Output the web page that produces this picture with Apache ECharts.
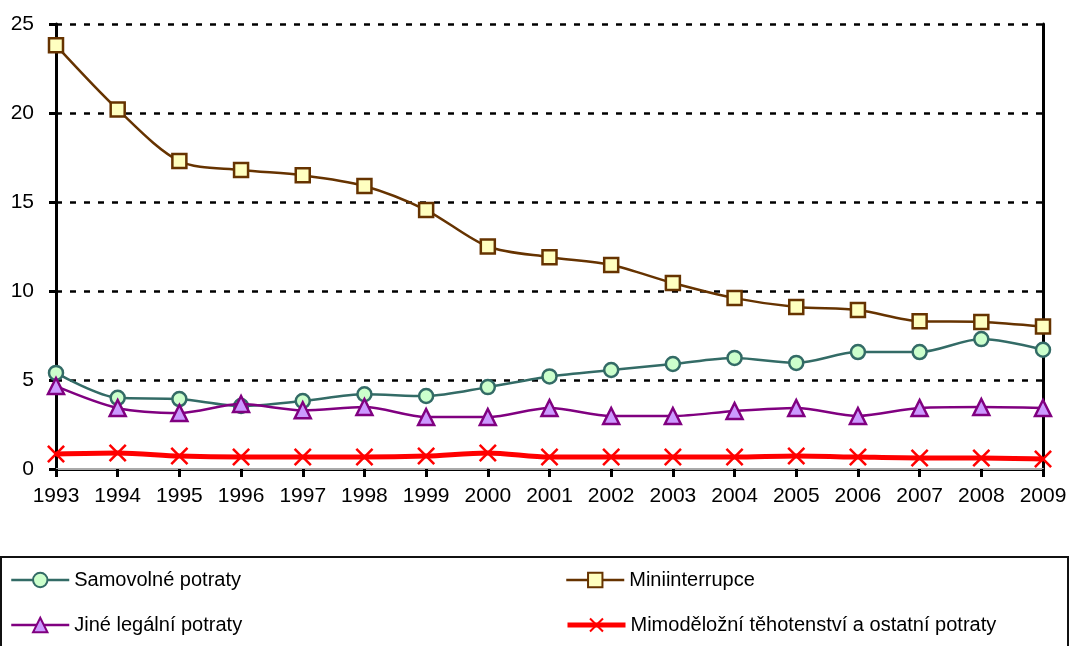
<!DOCTYPE html>
<html>
<head>
<meta charset="utf-8">
<script src="https://cdn.jsdelivr.net/npm/echarts@6/dist/echarts.min.js"></script>
<style>
  html, body { margin: 0; padding: 0; background: #fff; }
  #chart { width: 1069px; height: 646px; }
</style>
</head>
<body>
<div id="chart"></div>
<script>
var years = ['1993', '1994', '1995', '1996', '1997', '1998', '1999', '2000', '2001',
  '2002', '2003', '2004', '2005', '2006', '2007', '2008', '2009']

var samovolne = [5.4, 4.0, 3.93, 3.54, 3.82, 4.2, 4.1, 4.6, 5.2, 5.56, 5.9, 6.24, 5.96, 6.57, 6.57, 7.3, 6.7]
var miniinterrupce = [23.8, 20.2, 17.3, 16.8, 16.5, 15.9, 14.55, 12.5, 11.9, 11.46, 10.45, 9.6, 9.1, 8.93, 8.3, 8.26, 8.0]
var jine = [4.66, 3.43, 3.15, 3.65, 3.3, 3.48, 2.92, 2.92, 3.43, 2.98, 2.98, 3.26, 3.43, 2.98, 3.43, 3.48, 3.43]
var mimodelozni = [0.84, 0.9, 0.73, 0.67, 0.67, 0.67, 0.73, 0.9, 0.67, 0.67, 0.67, 0.67, 0.73, 0.67, 0.62, 0.62, 0.56]

var yMax = 25
var yStep = 5

var crossSymbol = 'path://M0,1L1,0L5,4L9,0L10,1L6,5L10,9L9,10L5,6L1,10L0,9L4,5Z'
var font = '"Liberation Sans", Arial, sans-serif'

// one legend per item, placed like the two-column legend box
function legendItem(name, left, top, lineWidth) {
  return {
    left: left,
    top: top,
    itemWidth: 58,
    itemHeight: 18,
    itemGap: 6,
    padding: 0,
    lineStyle: { width: lineWidth },
    textStyle: { fontSize: 20, color: '#000', fontFamily: font },
    data: [name]
  }
}

var chart = echarts.init(document.getElementById('chart'))

chart.setOption({
  animation: false,
  textStyle: { fontFamily: font },
  grid: { left: 56, right: 26, top: 24, bottom: 177, containLabel: false, outerBoundsMode: 'none' },
  graphic: [{
    type: 'rect',
    shape: { x: 1, y: 557, width: 1067, height: 100 },
    style: { fill: 'none', stroke: '#111', lineWidth: 2 }
  }],
  legend: [
    legendItem('Samovolné potraty', 10, 570, 2.5),
    legendItem('Jiné legální potraty', 10, 615, 2.5),
    legendItem('Miniinterrupce', 565, 570, 2.5),
    legendItem('Mimoděložní těhotenství a ostatní potraty', 565, 615, 5)
  ],
  xAxis: [{
    type: 'category',
    data: years,
    boundaryGap: false,
    axisLine: { lineStyle: { color: '#000', width: 3 } },
    axisTick: { show: true, length: 8, interval: 0, lineStyle: { color: '#000', width: 3 } },
    axisLabel: { fontSize: 21, color: '#000', margin: 17, interval: 0, fontFamily: font },
    splitLine: { show: false }
  }, {
    type: 'category',
    data: years,
    position: 'top',
    boundaryGap: false,
    axisLine: { lineStyle: { color: '#aaa', width: 2 } },
    axisTick: { show: false },
    axisLabel: { show: false }
  }],
  yAxis: [{
    type: 'value',
    min: 0,
    max: yMax,
    interval: yStep,
    axisLine: { show: true, lineStyle: { color: '#000', width: 3 } },
    axisTick: { show: true, length: 7, lineStyle: { color: '#000', width: 3 } },
    axisLabel: { fontSize: 21, color: '#000', margin: 22, fontFamily: font },
    splitLine: { show: true, lineStyle: { color: '#000', width: 2.5, type: [6, 8] } }
  }, {
    type: 'value',
    position: 'right',
    min: 0,
    max: yMax,
    interval: yStep,
    axisLine: { show: true, lineStyle: { color: '#000', width: 3 } },
    axisTick: { show: false },
    axisLabel: { show: false },
    splitLine: { show: false }
  }],
  series: [{
    name: 'Samovolné potraty',
    type: 'line',
    smooth: 0.3,
    data: samovolne,
    symbol: 'circle',
    symbolSize: 14,
    lineStyle: { color: '#336B66', width: 2.5 },
    itemStyle: { color: '#CCFFCC', borderColor: '#336B66', borderWidth: 2.5 },
    z: 3
  }, {
    name: 'Miniinterrupce',
    type: 'line',
    smooth: 0.3,
    data: miniinterrupce,
    symbol: 'rect',
    symbolSize: 14,
    lineStyle: { color: '#663300', width: 2.5 },
    itemStyle: { color: '#FFFFC0', borderColor: '#663300', borderWidth: 2.5 },
    z: 3
  }, {
    name: 'Jiné legální potraty',
    type: 'line',
    smooth: 0.3,
    data: jine,
    symbol: 'triangle',
    symbolSize: 16,
    lineStyle: { color: '#800080', width: 2.5 },
    itemStyle: { color: '#CC99FF', borderColor: '#800080', borderWidth: 2.5 },
    z: 4
  }, {
    name: 'Mimoděložní těhotenství a ostatní potraty',
    type: 'line',
    smooth: 0.3,
    data: mimodelozni,
    symbol: crossSymbol,
    symbolSize: 18,
    lineStyle: { color: '#FF0000', width: 5 },
    itemStyle: { color: '#FF0000', borderWidth: 0 },
    z: 3
  }]
})
</script>
</body>
</html>
